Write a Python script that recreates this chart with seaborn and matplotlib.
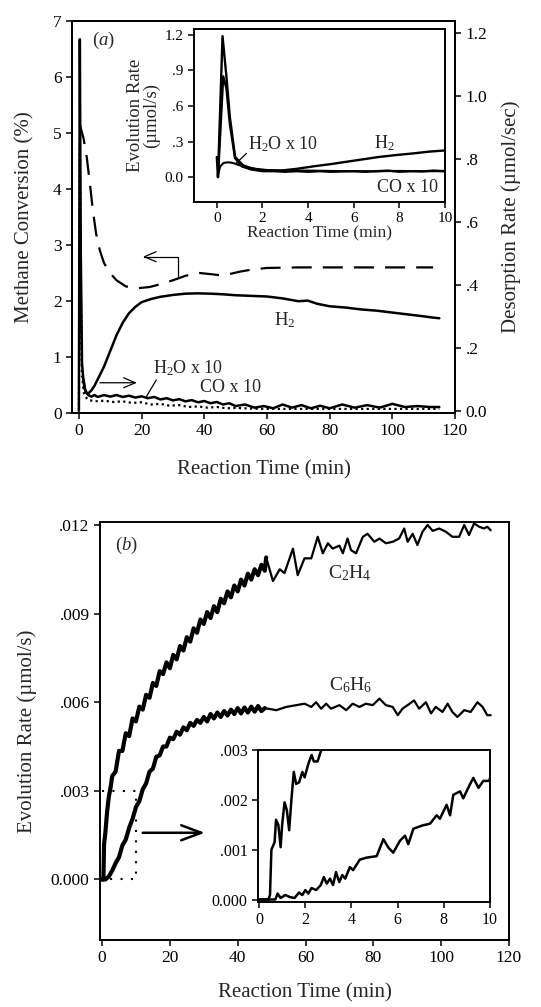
import matplotlib
import matplotlib.pyplot as plt
import numpy as np
import seaborn as sns

matplotlib.use("Agg")

# ---------------- panel (a): main axes ----------------
CONV_T = [0.3, 1.5, 2.5, 3.5, 4.5, 5.5, 6.7, 8, 9.9, 12, 15, 19, 22.6, 26, 30, 34, 38.5,
          42, 45, 48, 51, 55, 60, 70, 80, 90, 100, 110, 113]
CONV_PCT = [5.15, 4.9, 4.57, 4.1, 3.6, 3.2, 2.9, 2.68, 2.5, 2.37, 2.26, 2.23, 2.25, 2.3, 2.37,
            2.45, 2.5, 2.48, 2.46, 2.48, 2.52, 2.56, 2.59, 2.6, 2.6, 2.6, 2.6, 2.6, 2.6]

H2_T = [0, 0.3, 0.6, 1, 1.5, 2, 2.5, 3, 4, 5, 6, 7, 8, 10, 12, 14, 16, 18, 20, 23, 26, 30,
        34, 38, 42, 46, 50, 55, 60, 65, 70, 73, 76, 80, 85, 90, 95, 100, 105, 110, 113, 115]
H2_RATE = [0.0, 1.18, 0.5, 0.15, 0.09, 0.065, 0.055, 0.055, 0.065, 0.08, 0.1, 0.12, 0.14,
           0.19, 0.24, 0.28, 0.31, 0.33, 0.345, 0.355, 0.362, 0.368, 0.372, 0.373, 0.372,
           0.37, 0.367, 0.365, 0.363, 0.357, 0.348, 0.35, 0.34, 0.332, 0.328, 0.322, 0.318,
           0.312, 0.306, 0.3, 0.296, 0.294]

H2O_T = [1.5, 2, 3, 4, 5, 6, 8, 10, 12, 14, 16, 18, 20, 22, 24, 26, 28, 30, 32, 34, 36, 38,
         40, 42, 44, 46, 48, 50, 53, 56, 59, 62, 65, 68, 71, 74, 77, 80, 84, 88, 92, 96, 100,
         104, 108, 112, 115]
H2O_RATE = [0.1, 0.065, 0.05, 0.045, 0.05, 0.044, 0.05, 0.045, 0.05, 0.044, 0.048, 0.042,
            0.046, 0.04, 0.044, 0.036, 0.04, 0.033, 0.037, 0.03, 0.034, 0.027, 0.031, 0.024,
            0.028, 0.02, 0.024, 0.015, 0.02, 0.01, 0.015, 0.008, 0.02, 0.01, 0.018, 0.008,
            0.016, 0.008, 0.02, 0.01, 0.018, 0.01, 0.022, 0.012, 0.015, 0.012, 0.012]

CO_T = [0, 0.3, 0.6, 1, 1.5, 2, 3, 5, 8, 11, 14, 17, 20, 23, 26, 29, 32, 35, 38, 41, 44, 47,
        50, 55, 60, 70, 80, 90, 100, 110, 115]
CO_RATE = [0.0, 0.85, 0.4, 0.12, 0.06, 0.045, 0.035, 0.03, 0.032, 0.028, 0.03, 0.025, 0.027,
           0.02, 0.022, 0.016, 0.018, 0.012, 0.014, 0.01, 0.012, 0.008, 0.009, 0.007, 0.006,
           0.006, 0.006, 0.006, 0.006, 0.006, 0.006]

# ---------------- panel (a): inset, first 10 min ----------------
IN_H2_T = [0.0, 0.05, 0.25, 0.42, 0.57, 0.8, 1.15, 1.5, 1.9, 2.4, 2.8, 3.5, 4.2, 5, 5.7, 6.4,
           7.1, 7.8, 8.6, 9.3, 10]
IN_H2 = [0.17, 0.0, 1.19, 0.85, 0.51, 0.17, 0.1, 0.075, 0.06, 0.055, 0.055, 0.07, 0.09, 0.11,
         0.13, 0.15, 0.17, 0.185, 0.2, 0.215, 0.225]
IN_CO_T = [0.05, 0.28, 0.42, 0.57, 0.8, 1.1, 1.5, 2, 2.5, 3, 3.5, 4, 4.5, 5, 5.5, 6, 6.5, 7,
           7.5, 8, 8.5, 9, 9.5, 10]
IN_CO = [0.0, 0.85, 0.75, 0.45, 0.16, 0.09, 0.065, 0.05, 0.05, 0.045, 0.05, 0.045, 0.05,
         0.045, 0.048, 0.05, 0.045, 0.05, 0.055, 0.045, 0.05, 0.048, 0.055, 0.05]
IN_H2O_T = [0.05, 0.15, 0.3, 0.5, 0.7, 1.0, 1.3, 1.7, 2.2, 3, 4, 5, 6, 7, 8, 9, 10]
IN_H2O = [0.02, 0.09, 0.12, 0.125, 0.12, 0.1, 0.085, 0.07, 0.06, 0.055, 0.055, 0.052, 0.05,
          0.05, 0.052, 0.05, 0.05]

# ---------------- panel (b): main axes (x1e-3 umol/s) ----------------
C2H4_T = [0, 0.4, 0.6, 1, 1.5, 2, 2.5, 3, 4, 5, 6, 7, 8, 9, 10, 11, 12, 13, 14, 15, 16, 17,
          18, 19, 20, 21, 22, 23, 24, 25, 26, 27, 28, 29, 30, 31, 32, 33, 34, 35, 36, 37, 38,
          39, 40, 41, 42, 43, 44, 45, 46, 47, 48, 48.4,
          50.4, 52.4, 53.8, 56.3, 57.7, 59.7, 61.7, 63.6, 65.1, 66.6, 68, 70, 71, 72.4, 73.4,
          74.9, 76.9, 78.3, 80.3, 81.8, 83.7, 85.7, 87.6, 89.1, 90.1, 91.6, 93, 94.5, 96,
          97.5, 99.4, 101.4, 103.3, 105.3, 106.8, 108.2, 109.7, 111.2, 112.6, 113.6, 114.6]
C2H4_RATE = [0, 0, 1.2, 1.6, 2.3, 2.8, 3.1, 3.5, 3.65, 4.35, 4.35, 4.95, 4.85, 5.45, 5.35,
             5.85, 5.75, 6.25, 6.15, 6.65, 6.55, 7.05, 6.95, 7.35, 7.15, 7.6, 7.45, 7.9, 7.75,
             8.2, 8.05, 8.5, 8.35, 8.8, 8.65, 9.05, 8.85, 9.25, 9.05, 9.5, 9.35, 9.75, 9.55,
             9.95, 9.75, 10.15, 9.95, 10.35, 10.15, 10.5, 10.3, 10.65, 10.45, 10.9,
             10.1, 10.5, 10.37, 11.2, 10.3, 10.87, 10.87, 11.6, 11.04, 11.38, 11.2, 11.3,
             11.04, 11.54, 11.15, 11.04, 11.6, 11.7, 11.43, 11.54, 11.38, 11.43, 11.54, 11.88,
             11.43, 11.7, 11.32, 11.77, 12.0, 11.8, 11.88, 11.77, 11.6, 11.6, 12.0, 11.66,
             12.05, 11.94, 11.88, 11.94, 11.82]

C6H6_T = [0, 1, 2, 3, 4, 5, 6, 7, 8, 9, 10, 11, 12, 13, 14, 15, 16, 17, 18, 19, 20, 21, 22,
          23, 24, 25, 26, 27, 28, 29, 30, 31, 32, 33, 34, 35, 36, 37, 38, 39, 40, 41, 42, 43,
          44, 45, 46, 47, 48,
          51.4, 54.3, 57.3, 59.7, 61.7, 63.1, 64.6, 66.1, 67.5, 70, 72, 73.9, 75.9, 77.8,
          79.8, 81.8, 83.7, 85.7, 87.2, 88.6, 90.1, 92, 93.5, 95.5, 97, 98.4, 100.4, 101.9,
          103.3, 104.8, 106.8, 108.7, 110.7, 112.2, 113.6, 114.6]
C6H6_RATE = [0, 0, 0.1, 0.3, 0.55, 0.75, 1.15, 1.35, 1.75, 2.05, 2.45, 2.65, 3.05, 3.25,
             3.65, 3.75, 4.15, 4.2, 4.5, 4.5, 4.8, 4.75, 5.0, 4.9, 5.15, 5.05, 5.3, 5.2, 5.4,
             5.3, 5.5, 5.35, 5.6, 5.45, 5.65, 5.5, 5.7, 5.55, 5.75, 5.6, 5.8, 5.62, 5.82, 5.65,
             5.85, 5.68, 5.87, 5.7, 5.8,
             5.73, 5.84, 5.9, 5.95, 5.84, 6.0, 5.78, 5.95, 5.78, 5.9, 5.73, 5.95, 5.84, 5.95,
             5.9, 6.12, 5.9, 5.84, 5.56, 5.78, 5.9, 6.06, 5.78, 6.0, 5.62, 5.84, 5.67, 5.95,
             5.67, 5.5, 5.73, 5.67, 6.0, 5.84, 5.56, 5.56]

# ---------------- panel (b): inset, first 10 min ----------------
IN_C2H4_T = [0, 0.4, 0.47, 0.53, 0.67, 0.73, 0.83, 0.93, 1.0, 1.1, 1.2, 1.3, 1.4, 1.5, 1.6,
             1.73, 1.87, 1.97, 2.13, 2.27, 2.37, 2.53, 2.67, 2.8]
IN_C2H4 = [0, 0, 0.09, 1.0, 1.15, 1.6, 1.5, 1.05, 1.52, 1.95, 1.79, 1.39, 2.02, 2.56, 2.32,
           2.35, 2.56, 2.45, 2.72, 2.9, 2.77, 2.77, 2.97, 3.1]
IN_C6H6_T = [0, 0.7, 0.8, 0.93, 1.13, 1.33, 1.53, 1.73, 1.87, 2.0, 2.13, 2.27, 2.47, 2.67,
             2.8, 2.93, 3.07, 3.2, 3.33, 3.47, 3.6, 3.73, 3.93, 4.07, 4.36, 4.65, 5.09, 5.38,
             5.6, 5.81, 6.1, 6.32, 6.46, 6.68, 7.1, 7.4, 7.69, 7.83, 8.12, 8.27, 8.41, 8.7,
             8.84, 9.13, 9.28, 9.5, 9.71, 9.97, 10]
IN_C6H6 = [0, 0, 0.12, 0.03, 0.09, 0.05, 0.03, 0.14, 0.09, 0.19, 0.12, 0.23, 0.19, 0.29,
           0.45, 0.32, 0.42, 0.29, 0.55, 0.35, 0.49, 0.42, 0.65, 0.59, 0.8, 0.84, 0.87, 1.21,
           1.04, 0.94, 1.18, 1.28, 1.11, 1.42, 1.49, 1.52, 1.69, 1.62, 1.9, 1.69, 2.1, 2.17,
           2.03, 2.31, 2.44, 2.24, 2.38, 2.38, 2.44]

# ---------------- ticks ----------------
X_TICKS = [0, 20, 40, 60, 80, 100, 120]
IN_X_TICKS = [0, 2, 4, 6, 8, 10]
CONV_TICKS = [0, 1, 2, 3, 4, 5, 6, 7]
DES_TICKS = [0.0, 0.2, 0.4, 0.6, 0.8, 1.0, 1.2]
DES_LABELS = ["0.0", ".2", ".4", ".6", ".8", "1.0", "1.2"]
IN_A_TICKS = [0.0, 0.3, 0.6, 0.9, 1.2]
IN_A_LABELS = ["0.0", ".3", ".6", ".9", "1.2"]
B_TICKS = [0.0, 0.003, 0.006, 0.009, 0.012]
B_LABELS = ["0.000", ".003", ".006", ".009", ".012"]
IN_B_TICKS = [0.0, 0.001, 0.002, 0.003]
IN_B_LABELS = ["0.000", ".001", ".002", ".003"]

DENSE_END = 48  # minutes sampled densely (thick noisy trace)
W, H = 541, 1007


def px_box(left, top, right, bottom):
    return [left / W, 1 - bottom / H, (right - left) / W, (bottom - top) / H]


def trace(ax, x, y, **kw):
    sns.lineplot(x=x, y=y, ax=ax, color="black", estimator=None, sort=False,
                 legend=False, **kw)
    return ax.lines[-1]


def style_axes(ax, tick_size):
    for sp in ax.spines.values():
        sp.set_visible(True)
        sp.set_linewidth(1.4)
        sp.set_color("black")
    ax.tick_params(direction="out", length=4, width=1.1, labelsize=tick_size, colors="black")
    ax.set_facecolor("white")


sns.set_theme(style="ticks")
plt.rcParams["font.family"] = ["Liberation Serif", "DejaVu Serif"]
plt.rcParams["mathtext.fontset"] = "custom"
plt.rcParams["mathtext.rm"] = "Liberation Serif"
plt.rcParams["mathtext.it"] = "Liberation Serif:italic"

fig = plt.figure(figsize=(W / 100, H / 100), dpi=100, facecolor="white")

# ===================== panel (a) =====================
ax = fig.add_axes(px_box(72, 21, 455, 413))
ax2 = ax.twinx()
style_axes(ax, 12.5)
style_axes(ax2, 12.5)

conv = trace(ax, CONV_T, CONV_PCT, lw=1.6)
conv.set_dashes([9, 5])
trace(ax2, H2_T, H2_RATE, lw=1.8)
trace(ax2, H2O_T, H2O_RATE, lw=1.8)
trace(ax2, CO_T, CO_RATE, lw=1.6, linestyle=(0, (1, 1.5)))

ax.set_xlim(-2.2, 120)
ax.set_ylim(0, 7)
ax2.set_ylim(-0.007, 1.238)
ax.set_xticks(X_TICKS)
ax.set_xticklabels([str(t) for t in X_TICKS])
ax.set_yticks(CONV_TICKS)
ax.set_yticklabels([str(t) for t in CONV_TICKS])
ax2.set_yticks(DES_TICKS)
ax2.set_yticklabels(DES_LABELS)
ax.set_xlabel("Reaction Time (min)", fontsize=15, labelpad=15)
ax.set_ylabel("Methane Conversion (%)", fontsize=15, labelpad=13)
ax2.set_ylabel("Desorption Rate (\u00b5mol/sec)", fontsize=15, labelpad=10)
ax.grid(False)
ax2.grid(False)

ax.text(4.1, 6.66, r"($\mathit{a}$)", fontsize=13.5, va="center", ha="left")
ax.text(62.4, 1.66, r"H$_2$", fontsize=13.5, va="center", ha="left")
ax.text(23.6, 0.80, r"H$_2$O x 10", fontsize=13, va="center", ha="left")
ax.text(38.5, 0.45, "CO x 10", fontsize=13, va="center", ha="left")
ax.plot([24.7, 21.5], [0.59, 0.29], color="black", lw=0.9)
ax.annotate("", xy=(20.4, 2.79), xytext=(31.5, 2.43),
            arrowprops=dict(arrowstyle="->,head_length=0.7,head_width=0.3", lw=0.9,
                            color="black", shrinkA=0, shrinkB=0,
                            connectionstyle="angle,angleA=90,angleB=0,rad=0"))
ax.annotate("", xy=(18.5, 0.54), xytext=(6.7, 0.54),
            arrowprops=dict(arrowstyle="->,head_length=0.7,head_width=0.3", lw=0.9,
                            color="black", shrinkA=0, shrinkB=0))

# inset (a)
ia = fig.add_axes(px_box(194, 29, 445, 202))
ia.set_zorder(5)
style_axes(ia, 11)
trace(ia, IN_H2_T, IN_H2, lw=1.7)
trace(ia, IN_CO_T, IN_CO, lw=1.7)
trace(ia, IN_H2O_T, IN_H2O, lw=1.5)
ia.set_xlim(-1.0, 10)
ia.set_ylim(-0.21, 1.25)
ia.set_xticks(IN_X_TICKS)
ia.set_xticklabels([str(t) for t in IN_X_TICKS])
ia.set_yticks(IN_A_TICKS)
ia.set_yticklabels(IN_A_LABELS)
ia.set_xlabel("Reaction Time (min)", fontsize=12.5, labelpad=0)
ia.set_ylabel("Evolution Rate\n(\u00b5mol/s)", fontsize=13.5, labelpad=3, linespacing=0.9)
ia.grid(False)
ia.text(1.36, 0.28, r"H$_2$O x 10", fontsize=13, va="center", ha="left")
ia.text(6.9, 0.29, r"H$_2$", fontsize=13, va="center", ha="left")
ia.text(7.0, -0.085, "CO x 10", fontsize=13, va="center", ha="left")
ia.plot([1.3, 0.86], [0.2, 0.12], color="black", lw=0.9)

# ===================== panel (b) =====================
bx = fig.add_axes(px_box(100, 522, 509, 940))
style_axes(bx, 12.5)
c2 = np.array(C2H4_T)
c6 = np.array(C6H6_T)
c2v = np.array(C2H4_RATE) * 1e-3
c6v = np.array(C6H6_RATE) * 1e-3
trace(bx, c2[c2 <= DENSE_END + 0.5], c2v[c2 <= DENSE_END + 0.5], lw=3.0)
trace(bx, c2[c2 >= DENSE_END], c2v[c2 >= DENSE_END], lw=1.6)
trace(bx, c6[c6 <= DENSE_END], c6v[c6 <= DENSE_END], lw=3.0)
trace(bx, c6[c6 >= DENSE_END], c6v[c6 >= DENSE_END], lw=1.6)

bx.set_xlim(-0.6, 120)
bx.set_ylim(-0.00205, 0.0121)
bx.set_xticks(X_TICKS)
bx.set_xticklabels([str(t) for t in X_TICKS])
bx.set_yticks(B_TICKS)
bx.set_yticklabels(B_LABELS)
bx.set_xlabel("Reaction Time (min)", fontsize=15, labelpad=12)
bx.set_ylabel("Evolution Rate (\u00b5mol/s)", fontsize=15, labelpad=10)
bx.grid(False)

bx.text(3.8, 0.0113, r"($\mathit{b}$)", fontsize=13.5, va="center", ha="left")
bx.text(66.5, 0.01037, r"C$_2$H$_4$", fontsize=14, va="center", ha="left")
bx.text(67, 0.00658, r"C$_6$H$_6$", fontsize=14, va="center", ha="left")
dot = (0, (1, 4))
bx.plot([0, 10, 10, 0], [0.003, 0.003, 0.0, 0.0], color="black", lw=1.5, linestyle=dot)
bx.annotate("", xy=(30.3, 0.00158), xytext=(12, 0.00158),
            arrowprops=dict(arrowstyle="->,head_length=1.2,head_width=0.45", lw=1.8,
                            color="black", shrinkA=0, shrinkB=0))

# inset (b)
ib = fig.add_axes(px_box(258, 750, 490, 902))
ib.set_zorder(5)
style_axes(ib, 11.5)
trace(ib, IN_C2H4_T, np.array(IN_C2H4) * 1e-3, lw=1.8)
trace(ib, IN_C6H6_T, np.array(IN_C6H6) * 1e-3, lw=1.8)
ib.set_xlim(-0.05, 10)
ib.set_ylim(-0.00005, 0.003)
ib.set_xticks(IN_X_TICKS)
ib.set_xticklabels([str(t) for t in IN_X_TICKS])
ib.set_yticks(IN_B_TICKS)
ib.set_yticklabels(IN_B_LABELS)
ib.grid(False)

fig.savefig("out.png", dpi=100, facecolor="white")
